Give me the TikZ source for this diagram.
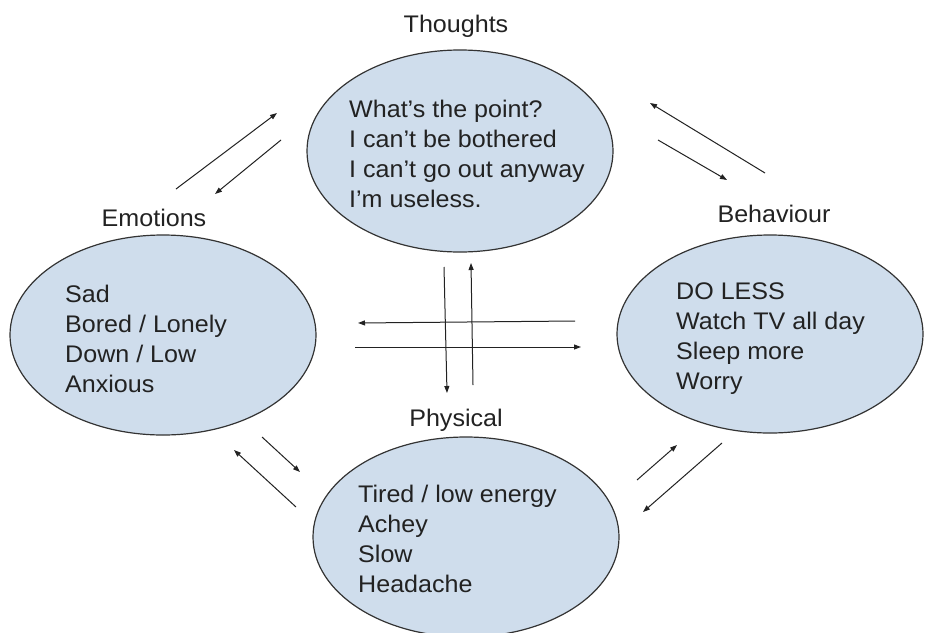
\documentclass[tikz,border=0pt]{standalone}
\usepackage{fontspec}
\setmainfont{Liberation Sans}[FakeStretch=1.045]
\usetikzlibrary{arrows.meta,shapes.geometric}
\definecolor{fillblue}{HTML}{CFDDEC}
\definecolor{edgegray}{HTML}{333333}
\definecolor{ink}{HTML}{222222}
\begin{document}
\begin{tikzpicture}[x=1pt,y=-1pt,
 ell/.style={ellipse, draw=edgegray, line width=1.2pt, fill=fillblue, inner sep=0},
 body/.style={align=left, anchor=base west, inner sep=0, font=\fontsize{24}{30}\selectfont, text=ink},
 lab/.style={anchor=base, inner sep=0, font=\fontsize{24}{30}\selectfont, text=ink},
 arr/.style={draw=ink, line width=1pt, -{Triangle[length=7pt,width=5pt]}}]
\useasboundingbox (0,0) rectangle (944,632);
\fill[white] (0,0) rectangle (944,632);
% ellipses
\node[ell, minimum width=306pt, minimum height=202pt] (thoughts) at (460,151) {};
\node[ell, minimum width=306pt, minimum height=200pt] (emotions) at (163,335) {};
\node[ell, minimum width=306pt, minimum height=198pt] (behaviour) at (770,334) {};
\node[ell, minimum width=306pt, minimum height=200pt] (physical) at (466,537) {};
% texts (anchored at the baseline of the last line)
\node[body] (thoughtsT) at (349,207) {What’s the point?\\I can’t be bothered\\I can’t go out anyway\\I’m useless.};
\node[body] (emotionsT) at (65,392) {Sad\\Bored / Lonely\\Down / Low\\Anxious};
\node[body] (behaviourT) at (676,389) {DO LESS\\Watch TV all day\\Sleep more\\Worry};
\node[body] (physicalT) at (358,592) {Tired / low energy\\Achey\\Slow\\Headache};
% labels
\node[lab] (thoughtsL) at (456,32) {Thoughts};
\node[lab] (emotionsL) at (154,226) {Emotions};
\node[lab] (behaviourL) at (774,222) {Behaviour};
\node[lab] (physicalL) at (456,426) {Physical};
% arrow end points
\coordinate (e2tA) at (176,189); \coordinate (e2tB) at (277,113);
\coordinate (t2eA) at (281,140); \coordinate (t2eB) at (215,194);
\coordinate (b2tA) at (765,173); \coordinate (b2tB) at (650,103);
\coordinate (t2bA) at (658,140); \coordinate (t2bB) at (727,180);
\coordinate (t2pA) at (444,267); \coordinate (t2pB) at (447,393);
\coordinate (p2tA) at (473,385); \coordinate (p2tB) at (471,263);
\coordinate (b2eA) at (575,321); \coordinate (b2eB) at (358,323);
\coordinate (e2bA) at (355,347); \coordinate (e2bB) at (581,347);
\coordinate (e2pA) at (262,437); \coordinate (e2pB) at (300,472);
\coordinate (p2eA) at (296,507); \coordinate (p2eB) at (234,450);
\coordinate (p2bA) at (637,480); \coordinate (p2bB) at (677,445);
\coordinate (b2pA) at (722,443); \coordinate (b2pB) at (643,512);
% arrows
\draw[arr] (e2tA) -- (e2tB);
\draw[arr] (t2eA) -- (t2eB);
\draw[arr] (b2tA) -- (b2tB);
\draw[arr] (t2bA) -- (t2bB);
\draw[arr] (t2pA) -- (t2pB);
\draw[arr] (p2tA) -- (p2tB);
\draw[arr] (b2eA) -- (b2eB);
\draw[arr] (e2bA) -- (e2bB);
\draw[arr] (e2pA) -- (e2pB);
\draw[arr] (p2eA) -- (p2eB);
\draw[arr] (p2bA) -- (p2bB);
\draw[arr] (b2pA) -- (b2pB);
\end{tikzpicture}
\end{document}
